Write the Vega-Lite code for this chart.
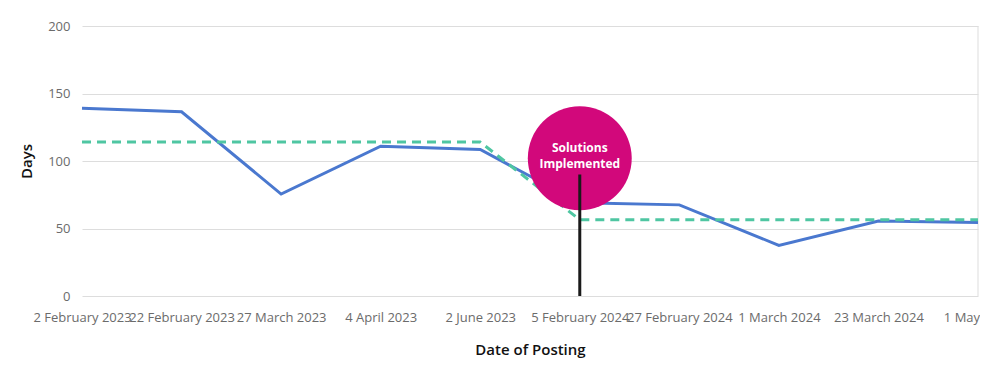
{
  "$schema": "https://vega.github.io/schema/vega-lite/v6.json",
  "autosize": {"type": "none"},
  "width": 896,
  "height": 270,
  "padding": {"left": 82, "top": 26, "right": 2, "bottom": 83},
  "background": "white",
  "config": {
    "view": {"stroke": null},
    "font": "Open Sans",
    "axis": {
      "labelFont": "Open Sans",
      "titleFont": "Open Sans",
      "labelColor": "#6b6b6b",
      "labelFontSize": 13,
      "titleColor": "#111111",
      "titleFontSize": 15,
      "titleFontWeight": 600,
      "gridColor": "#dddddd",
      "gridWidth": 1,
      "domain": false,
      "ticks": false
    }
  },
  "datasets": {
    "series": [
      {"date": "2 February 2023", "days": 139, "avg": 114},
      {"date": "22 February 2023", "days": 136.5, "avg": 114},
      {"date": "27 March 2023", "days": 75.5, "avg": 114},
      {"date": "4 April 2023", "days": 111, "avg": 114},
      {"date": "2 June 2023", "days": 108.5, "avg": 114},
      {"date": "5 February 2024", "days": 69, "avg": 56.5},
      {"date": "27 February 2024", "days": 67.5, "avg": 56.5},
      {"date": "1 March 2024", "days": 37.5, "avg": 56.5},
      {"date": "23 March 2024", "days": 55.5, "avg": 56.5},
      {"date": "1 May 2024", "days": 54.5, "avg": 56.5}
    ],
    "note": [
      {"date": "5 February 2024", "center": 102, "label": "Solutions Implemented", "top": 90, "bottom": 0}
    ],
    "edge": [
      {"date": "1 May 2024", "low": 0, "high": 200}
    ]
  },
  "layer": [
    {
      "data": {"name": "edge"},
      "mark": {"type": "rule", "color": "#dddddd", "strokeWidth": 1},
      "encoding": {
        "x": {
          "field": "date",
          "type": "ordinal",
          "sort": null,
          "scale": {
            "type": "point",
            "padding": 0,
            "domain": ["2 February 2023", "22 February 2023", "27 March 2023", "4 April 2023", "2 June 2023", "5 February 2024", "27 February 2024", "1 March 2024", "23 March 2024", "1 May 2024"]
          },
          "axis": {"title": "Date of Posting", "labelAngle": 0, "labelAlign": "center", "labelBaseline": "middle", "labelOverlap": false, "labelPadding": 21, "titlePadding": 18, "grid": false}
        },
        "y": {
          "field": "low",
          "type": "quantitative",
          "scale": {"domain": [0, 200]},
          "axis": {"title": "Days", "values": [0, 50, 100, 150, 200], "labelPadding": 12, "titlePadding": 13, "grid": true}
        },
        "y2": {"field": "high"}
      }
    },
    {
      "data": {"name": "series"},
      "mark": {"type": "line", "color": "#4a78cf", "strokeWidth": 3, "strokeJoin": "miter"},
      "encoding": {
        "x": {"field": "date", "type": "ordinal", "sort": null},
        "y": {"field": "days", "type": "quantitative"}
      }
    },
    {
      "data": {"name": "series"},
      "mark": {"type": "line", "color": "#4fc6a2", "strokeWidth": 3, "strokeDash": [9, 6]},
      "encoding": {
        "x": {"field": "date", "type": "ordinal", "sort": null},
        "y": {"field": "avg", "type": "quantitative"}
      }
    },
    {
      "data": {"name": "note"},
      "mark": {"type": "point", "shape": "circle", "filled": true, "color": "#d2087b", "opacity": 1, "size": 10800},
      "encoding": {
        "x": {"field": "date", "type": "ordinal"},
        "y": {"field": "center", "type": "quantitative"}
      }
    },
    {
      "data": {"name": "note"},
      "mark": {"type": "text", "color": "white", "fontSize": 12, "fontWeight": "bold", "lineBreak": " ", "lineHeight": 16, "dy": -10, "baseline": "middle"},
      "encoding": {
        "x": {"field": "date", "type": "ordinal"},
        "y": {"field": "center", "type": "quantitative"},
        "text": {"field": "label"}
      }
    },
    {
      "data": {"name": "note"},
      "mark": {"type": "rule", "color": "#1a1a1a", "strokeWidth": 3},
      "encoding": {
        "x": {"field": "date", "type": "ordinal"},
        "y": {"field": "top", "type": "quantitative"},
        "y2": {"field": "bottom"}
      }
    }
  ]
}
